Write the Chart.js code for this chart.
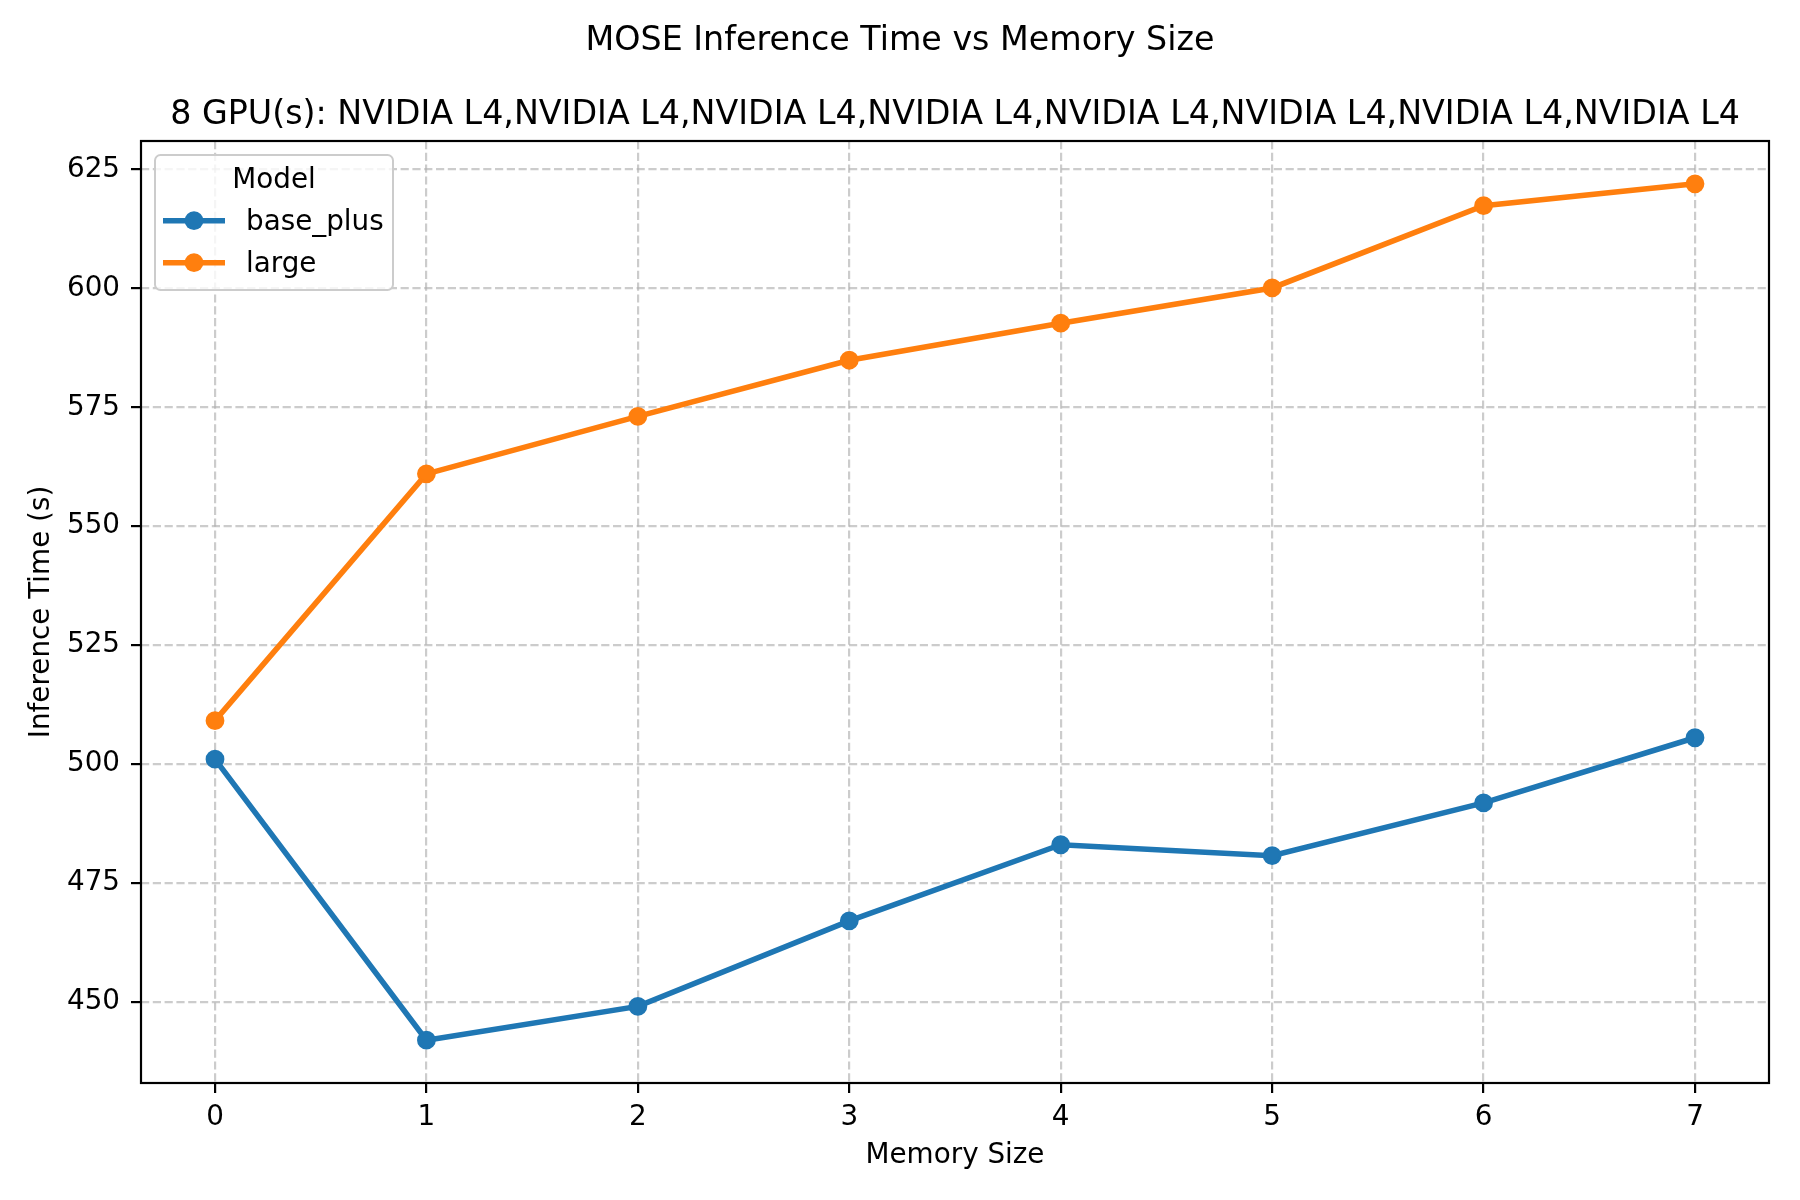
<!DOCTYPE html>
<html>
<head>
<meta charset="utf-8">
<title>MOSE Inference Time vs Memory Size</title>
<script src="https://cdn.jsdelivr.net/npm/chart.js@4.4.1/dist/chart.umd.min.js"></script>
<style>
  html, body { margin: 0; padding: 0; background: #fff; }
  #wrap { width: 1800px; height: 1200px; }
</style>
</head>
<body>
<div id="wrap"><canvas id="lineChart" width="1800" height="1200"></canvas></div>
<script>
// values
const memorySizes = [0, 1, 2, 3, 4, 5, 6, 7];
const basePlus = [501.0, 441.9, 449.0, 467.0, 483.0, 480.7, 491.8, 505.5];
const large = [509.1, 561.0, 573.1, 584.9, 592.7, 600.1, 617.4, 622.0];
const seriesNames = ['base_plus', 'large'];
const xTicks = [0, 1, 2, 3, 4, 5, 6, 7];
const yTicks = [450, 475, 500, 525, 550, 575, 600, 625];

const figTitle = 'MOSE Inference Time vs Memory Size';
const axTitle = '8 GPU(s): NVIDIA L4,NVIDIA L4,NVIDIA L4,NVIDIA L4,NVIDIA L4,NVIDIA L4,NVIDIA L4,NVIDIA L4';
const legendTitle = 'Model';

const FONT = '"DejaVu Sans", "Liberation Sans", sans-serif';
const gridColor = 'rgba(176,176,176,0.65)';

// matplotlib style 5% margins
const allY = basePlus.concat(large);
const yLo = Math.min(...allY), yHi = Math.max(...allY);
const yMin = yLo - (yHi - yLo) * 0.05;
const yMax = yHi + (yHi - yLo) * 0.05;
const xMin = memorySizes[0] - (memorySizes[memorySizes.length - 1] - memorySizes[0]) * 0.05;
const xMax = memorySizes[memorySizes.length - 1] + (memorySizes[memorySizes.length - 1] - memorySizes[0]) * 0.05;

function toPoints(ys) {
    return memorySizes.map((x, i) => ({ x: x, y: ys[i] }));
}

// frame, titles and legend box (matplotlib look)
const decorations = {
    id: 'decorations',
    afterDatasetsDraw(chart) {
        const ctx = chart.ctx;
        const a = chart.chartArea;
        ctx.save();
        ctx.strokeStyle = '#000';
        ctx.lineWidth = 2.2;
        ctx.strokeRect(a.left, a.top, a.right - a.left, a.bottom - a.top);

        ctx.fillStyle = '#000';
        ctx.font = '33.3px ' + FONT;
        ctx.textAlign = 'center';
        ctx.textBaseline = 'alphabetic';
        ctx.fillText(figTitle, chart.width / 2, 50);
        ctx.fillText(axTitle, (a.left + a.right) / 2, 124);

        // legend
        const bx = a.left + 14, by = a.top + 14, bw = 238, bh = 135, r = 5.5;
        ctx.beginPath();
        ctx.moveTo(bx + r, by);
        ctx.arcTo(bx + bw, by, bx + bw, by + bh, r);
        ctx.arcTo(bx + bw, by + bh, bx, by + bh, r);
        ctx.arcTo(bx, by + bh, bx, by, r);
        ctx.arcTo(bx, by, bx + bw, by, r);
        ctx.closePath();
        ctx.fillStyle = 'rgba(255,255,255,0.8)';
        ctx.fill();
        ctx.strokeStyle = '#cccccc';
        ctx.lineWidth = 2;
        ctx.stroke();

        ctx.fillStyle = '#000';
        ctx.font = '27.8px ' + FONT;
        ctx.textAlign = 'center';
        ctx.fillText(legendTitle, bx + bw / 2, by + 33);

        ctx.textAlign = 'left';
        chart.data.datasets.forEach((ds, i) => {
            const cy = by + 65.7 + i * 42;
            ctx.strokeStyle = ds.borderColor;
            ctx.lineWidth = 5.56;
            ctx.beginPath();
            ctx.moveTo(bx + 8, cy);
            ctx.lineTo(bx + 70, cy);
            ctx.stroke();
            ctx.fillStyle = ds.borderColor;
            ctx.beginPath();
            ctx.arc(bx + 39, cy, 9.4, 0, Math.PI * 2);
            ctx.fill();
            ctx.fillStyle = '#000';
            ctx.fillText(ds.label, bx + 91, cy + 8.8);
        });
        ctx.restore();
    }
};

const ctx = document.getElementById('lineChart').getContext('2d');
const lineChart = new Chart(ctx, {
    type: 'line',
    data: {
        datasets: [{
            label: seriesNames[0],
            data: toPoints(basePlus),
            borderColor: '#1f77b4',
            backgroundColor: '#1f77b4',
            borderWidth: 5.56,
            pointRadius: 8.2,
            pointBorderWidth: 2.4,
            tension: 0
        }, {
            label: seriesNames[1],
            data: toPoints(large),
            borderColor: '#ff7f0e',
            backgroundColor: '#ff7f0e',
            borderWidth: 5.56,
            pointRadius: 8.2,
            pointBorderWidth: 2.4,
            tension: 0
        }]
    },
    options: {
        responsive: false,
        devicePixelRatio: 1,
        animation: false,
        events: [],
        layout: {
            padding: { top: 141, right: 31, bottom: 0, left: 0 }
        },
        plugins: {
            legend: { display: false },
            title: { display: false },
            tooltip: { enabled: false }
        },
        scales: {
            x: {
                type: 'linear',
                min: xMin,
                max: xMax,
                bounds: 'data',
                afterBuildTicks: s => { s.ticks = xTicks.map(v => ({ value: v })); },
                afterFit: s => { s.height = 117; },
                grid: {
                    color: gridColor,
                    lineWidth: 2.2,
                    tickColor: '#000',
                    tickWidth: 2.2,
                    tickLength: 10,
                    tickBorderDash: []
                },
                border: { display: false, dash: [8.2, 3.6] },
                ticks: {
                    color: '#000',
                    font: { family: FONT, size: 27.8 },
                    padding: 8,
                    maxRotation: 0,
                    autoSkip: false
                },
                title: {
                    display: true,
                    text: 'Memory Size',
                    color: '#000',
                    font: { family: FONT, size: 27.8 },
                    padding: { top: 0, bottom: 28 }
                }
            },
            y: {
                type: 'linear',
                min: yMin,
                max: yMax,
                bounds: 'data',
                afterBuildTicks: s => { s.ticks = yTicks.map(v => ({ value: v })); },
                afterFit: s => { s.width = 141; },
                grid: {
                    color: gridColor,
                    lineWidth: 2.2,
                    tickColor: '#000',
                    tickWidth: 2.2,
                    tickLength: 10,
                    tickBorderDash: []
                },
                border: { display: false, dash: [8.2, 3.6] },
                ticks: {
                    color: '#000',
                    font: { family: FONT, size: 27.8 },
                    padding: 11,
                    autoSkip: false
                },
                title: {
                    display: true,
                    text: 'Inference Time (s)',
                    color: '#000',
                    font: { family: FONT, size: 27.8 },
                    padding: { top: 25, bottom: 0 }
                }
            }
        }
    },
    plugins: [decorations]
});
</script>
</body>
</html>
